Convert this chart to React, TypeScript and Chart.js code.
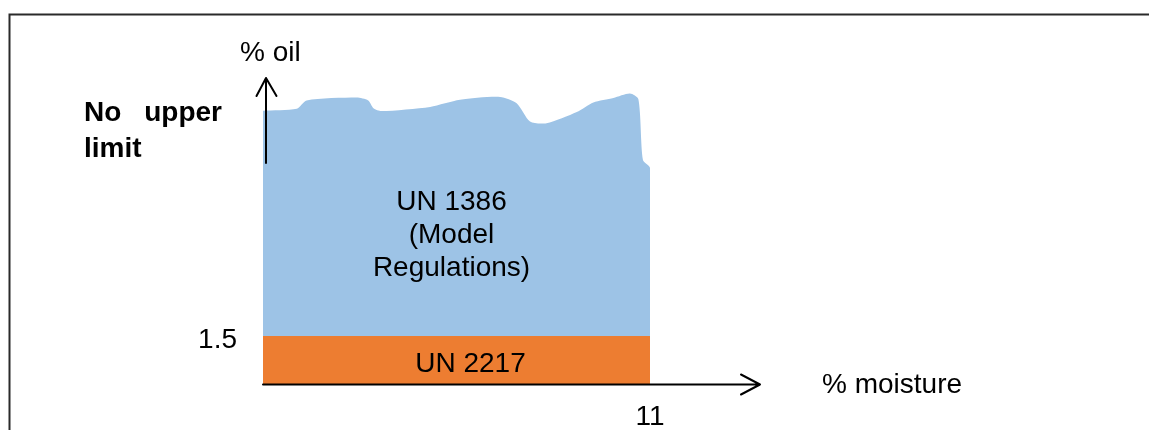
import React, { useEffect, useRef } from "react";
import { Chart, registerables } from "chart.js";

Chart.register(...registerables);

// % moisture values along the wavy top edge of the UN 1386 region
const topEdgeMoisture = [0, 0.96, 1.24, 2.66, 2.99, 3.14, 3.37, 4.75, 5.6, 6.74, 7.21, 7.59, 8.06, 8.92, 9.39, 9.96, 10.43, 10.67, 10.8, 11, 11];
// % oil values along the wavy top edge (no real upper limit, drawn as a torn edge)
const topEdgeOil = [8.54, 8.6, 8.86, 8.95, 8.86, 8.62, 8.53, 8.66, 8.88, 8.97, 8.77, 8.2, 8.15, 8.5, 8.8, 8.94, 9.08, 8.9, 7.0, 6.75, 1.5];

const moistureLimit = 11;
const oilThreshold = 1.5;

const xTickLabels = [11];
const yTickLabels = [1.5];

const regionLabels = ["UN 1386", "(Model", "Regulations)"];
const lowerLabel = "UN 2217";
const xAxisTitle = "% moisture";
const yAxisTitle = "% oil";
const noLimitWords = ["No", "upper"];
const noLimitSecond = "limit";

const FONT = '"Liberation Sans", Arial, sans-serif';

export default function App() {
  const ref = useRef<HTMLCanvasElement | null>(null);

  useEffect(() => {
    if (!ref.current) return;

    const overlay = {
      id: "overlay",
      afterDatasetsDraw(chart: any) {
        const { ctx, scales } = chart;
        const xs = scales.x;
        const ys = scales.y;
        const x0 = xs.getPixelForValue(0);
        const y0 = ys.getPixelForValue(0);
        ctx.save();

        // frame
        ctx.strokeStyle = "#2a2a2a";
        ctx.lineWidth = 2;
        ctx.beginPath();
        ctx.moveTo(1160, 14.5);
        ctx.lineTo(9.5, 14.5);
        ctx.lineTo(9.5, 440);
        ctx.stroke();

        // axes
        ctx.strokeStyle = "#000";
        ctx.lineWidth = 2;
        ctx.lineCap = "round";
        ctx.lineJoin = "round";
        // x axis
        ctx.beginPath();
        ctx.moveTo(x0, y0 + 0.5);
        ctx.lineTo(760, y0 + 0.5);
        ctx.moveTo(741, y0 - 9.5);
        ctx.lineTo(760, y0 + 0.5);
        ctx.lineTo(741, y0 + 10.5);
        ctx.stroke();
        // y axis (shaft visible above the region)
        const ax = x0 + 3;
        ctx.beginPath();
        ctx.moveTo(ax, 163);
        ctx.lineTo(ax, 78);
        ctx.moveTo(ax - 9.5, 96);
        ctx.lineTo(ax, 78);
        ctx.lineTo(ax + 10.5, 96);
        ctx.stroke();

        ctx.fillStyle = "#000";
        ctx.textBaseline = "alphabetic";
        ctx.font = `28px ${FONT}`;

        // axis titles
        ctx.textAlign = "left";
        ctx.fillText(yAxisTitle, 240, 61);
        ctx.fillText(xAxisTitle, 822, 393);

        // tick labels
        ctx.textAlign = "center";
        xTickLabels.forEach((v) => {
          ctx.fillText(String(v), xs.getPixelForValue(v), 425);
        });
        ctx.textAlign = "right";
        yTickLabels.forEach((v) => {
          ctx.fillText(String(v), 237, ys.getPixelForValue(v) + 12);
        });

        // region labels
        ctx.textAlign = "center";
        const cx = (xs.getPixelForValue(0) + xs.getPixelForValue(moistureLimit)) / 2;
        regionLabels.forEach((t, i) => {
          ctx.fillText(t, cx - 5, 210 + i * 33);
        });
        ctx.fillText(lowerLabel, cx + 14, 372);

        // no upper limit (justified first line)
        ctx.textAlign = "left";
        ctx.font = `bold 28px ${FONT}`;
        ctx.fillText(noLimitWords[0], 84, 121);
        ctx.textAlign = "right";
        ctx.fillText(noLimitWords[1], 222, 121);
        ctx.textAlign = "left";
        ctx.fillText(noLimitSecond, 84, 157);

        ctx.restore();
      },
    };

    const chart = new Chart(ref.current, {
      type: "line",
      data: {
        datasets: [
          {
            label: "UN 1386",
            data: topEdgeMoisture.map((x, i) => ({ x, y: topEdgeOil[i] })),
            borderWidth: 0,
            borderColor: "rgba(0,0,0,0)",
            backgroundColor: "#9DC3E6",
            pointRadius: 0,
            tension: 0.25,
            fill: { value: oilThreshold },
          },
          {
            label: "UN 2217",
            data: [
              { x: 0, y: oilThreshold },
              { x: moistureLimit, y: oilThreshold },
            ],
            borderWidth: 0,
            borderColor: "rgba(0,0,0,0)",
            backgroundColor: "#ED7D31",
            pointRadius: 0,
            fill: { value: 0 },
          },
        ],
      },
      options: {
        animation: false,
        responsive: false,
        layout: { padding: { left: 263, right: 1149 - 650, top: 64, bottom: 46 } },
        scales: {
          x: { type: "linear", min: 0, max: moistureLimit, display: false },
          y: { type: "linear", min: 0, max: 10, display: false },
        },
        plugins: {
          legend: { display: false },
          tooltip: { enabled: false },
        },
      },
      plugins: [overlay],
    });

    return () => chart.destroy();
  }, []);

  return (
    <div style={{ position: "absolute", left: 0, top: 0, width: 1149, height: 430, background: "#fff" }}>
      <canvas ref={ref} width={1149} height={430} style={{ display: "block" }} />
    </div>
  );
}
